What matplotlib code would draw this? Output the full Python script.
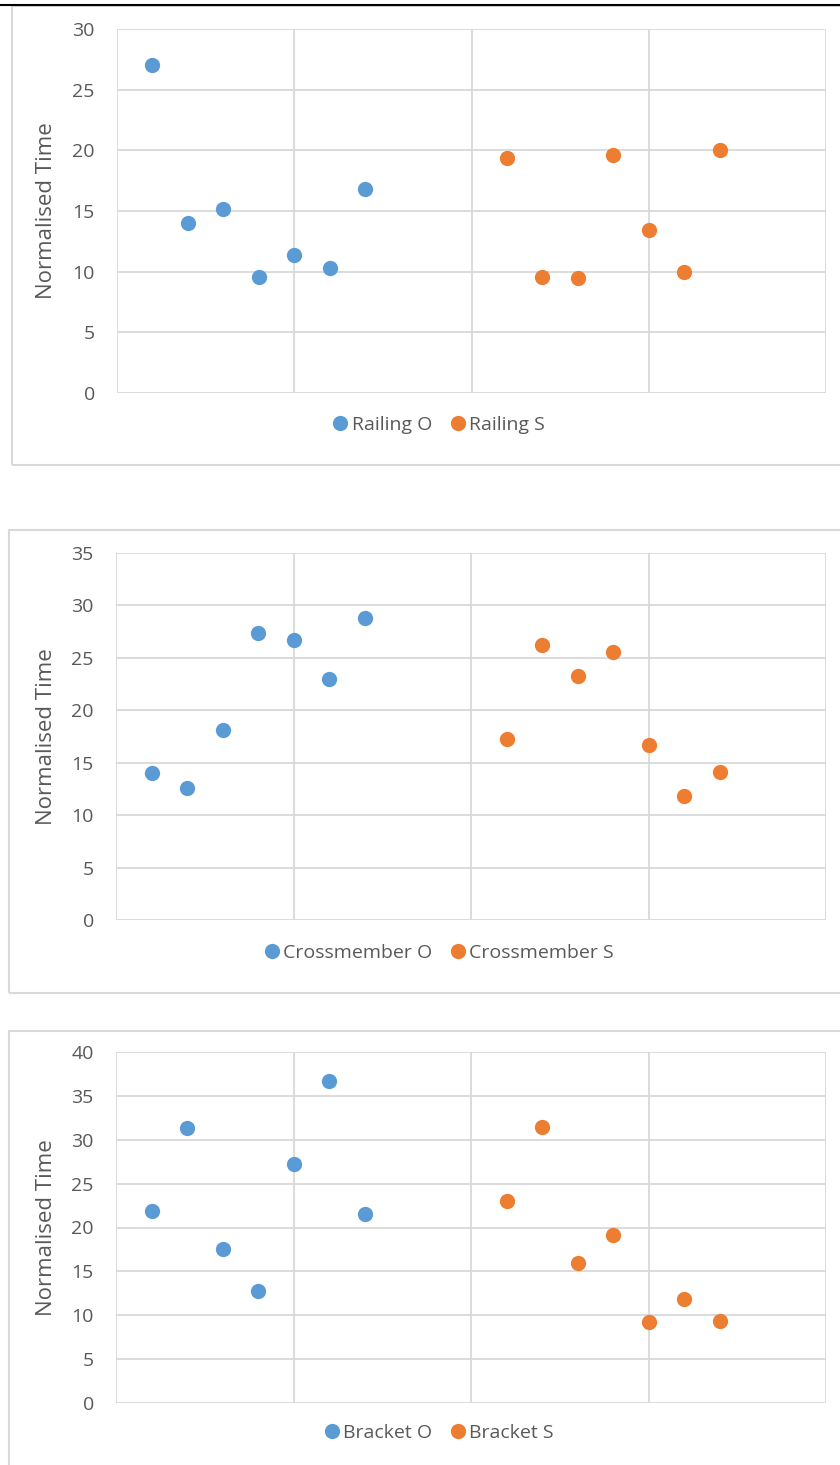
import matplotlib
matplotlib.use("Agg")
import matplotlib.pyplot as plt
from matplotlib.patches import Rectangle
from matplotlib.lines import Line2D

W, H = 840, 1465
DPI = 100

# ---- data ----
x_o = [1, 2, 3, 4, 5, 6, 7]
x_s = [11, 12, 13, 14, 15, 16, 17]

railing_o = [27.0, 14.0, 15.2, 9.6, 11.4, 10.3, 16.8]
railing_s = [19.4, 9.6, 9.5, 19.6, 13.4, 10.0, 20.0]

cross_o = [14.0, 12.6, 18.1, 27.4, 26.7, 23.0, 28.8]
cross_s = [17.3, 26.2, 23.3, 25.6, 16.7, 11.8, 14.1]

bracket_o = [21.9, 31.3, 17.5, 12.8, 27.2, 36.7, 21.5]
bracket_s = [23.0, 31.4, 15.9, 19.1, 9.2, 11.9, 9.4]

names = [("Railing O", "Railing S"), ("Crossmember O", "Crossmember S"),
         ("Bracket O", "Bracket S")]
series = [(railing_o, railing_s), (cross_o, cross_s), (bracket_o, bracket_s)]
ymaxes = [30, 35, 40]
yticks = [[0, 5, 10, 15, 20, 25, 30], [0, 5, 10, 15, 20, 25, 30, 35],
          [0, 5, 10, 15, 20, 25, 30, 35, 40]]

BLUE = "#5b9bd5"
ORANGE = "#ed7d31"
GRID = "#d9d9d9"
TXT = "#595959"
FONT = "Open Sans"

# layout in pixels: (axes left, right, top, bottom), (box left, top, bottom), legend y
layouts = [
    ((117, 826, 29, 393), (12, 6, 465), 425),
    ((116, 826, 553, 920), (9, 530, 993), 953),
    ((116, 826, 1052, 1403), (9, 1031, 1475), 1433),
]

fig = plt.figure(figsize=(W / DPI, H / DPI), dpi=DPI)
fig.patch.set_facecolor("white")

def fx(px):
    return px / W

def fy(py):
    return 1 - py / H

for (ax_l, ax_r, ax_t, ax_b), (bx_l, bx_t, bx_b), leg_y in layouts:
    rect = Rectangle((fx(bx_l), fy(bx_b)), fx(880 - bx_l), (bx_b - bx_t) / H,
                     transform=fig.transFigure, facecolor="none",
                     edgecolor=GRID, linewidth=1.5, zorder=0)
    fig.patches.append(rect)

# top black line
fig.add_artist(Line2D([0, 1], [fy(4.5), fy(4.5)], transform=fig.transFigure,
                      color="black", linewidth=1.5))

for i, ((ax_l, ax_r, ax_t, ax_b), box, leg_y) in enumerate(layouts):
    ax = fig.add_axes([fx(ax_l), fy(ax_b), (ax_r - ax_l) / W, (ax_b - ax_t) / H])
    o, s = series[i]
    no, ns = names[i]
    ax.plot(x_o, o, "o", color=BLUE, markersize=11, markeredgewidth=0,
            label=no, zorder=3, clip_on=False)
    ax.plot(x_s, s, "o", color=ORANGE, markersize=11, markeredgewidth=0,
            label=ns, zorder=3, clip_on=False)
    ax.set_xlim(0, 20)
    ax.set_ylim(0, ymaxes[i])
    ax.set_xticks([0, 5, 10, 15, 20])
    ax.set_yticks(yticks[i])
    ax.tick_params(axis="x", length=0, labelbottom=False)
    ax.tick_params(axis="y", length=0, pad=16, labelsize=14, colors=TXT)
    for lab in ax.get_yticklabels():
        lab.set_fontfamily(FONT)
    ax.grid(True, color=GRID, linewidth=1.3)
    ax.set_axisbelow(True)
    for sp in ax.spines.values():
        sp.set_visible(False)
    ax.set_ylabel("Normalised Time", fontsize=16, color=TXT, family=FONT)
    ax.yaxis.set_label_coords((57 - ax_l) / (ax_r - ax_l), 0.5)
    leg = fig.legend(handles=ax.get_lines(), loc="center",
                     bbox_to_anchor=(fx(437), fy(leg_y)), ncol=2, frameon=False,
                     prop={"family": FONT, "size": 14}, handletextpad=0.0,
                     columnspacing=0.7, markerscale=1.0, handlelength=1.2)
    for t in leg.get_texts():
        t.set_color(TXT)

fig.savefig("out.png", dpi=DPI, facecolor="white")
